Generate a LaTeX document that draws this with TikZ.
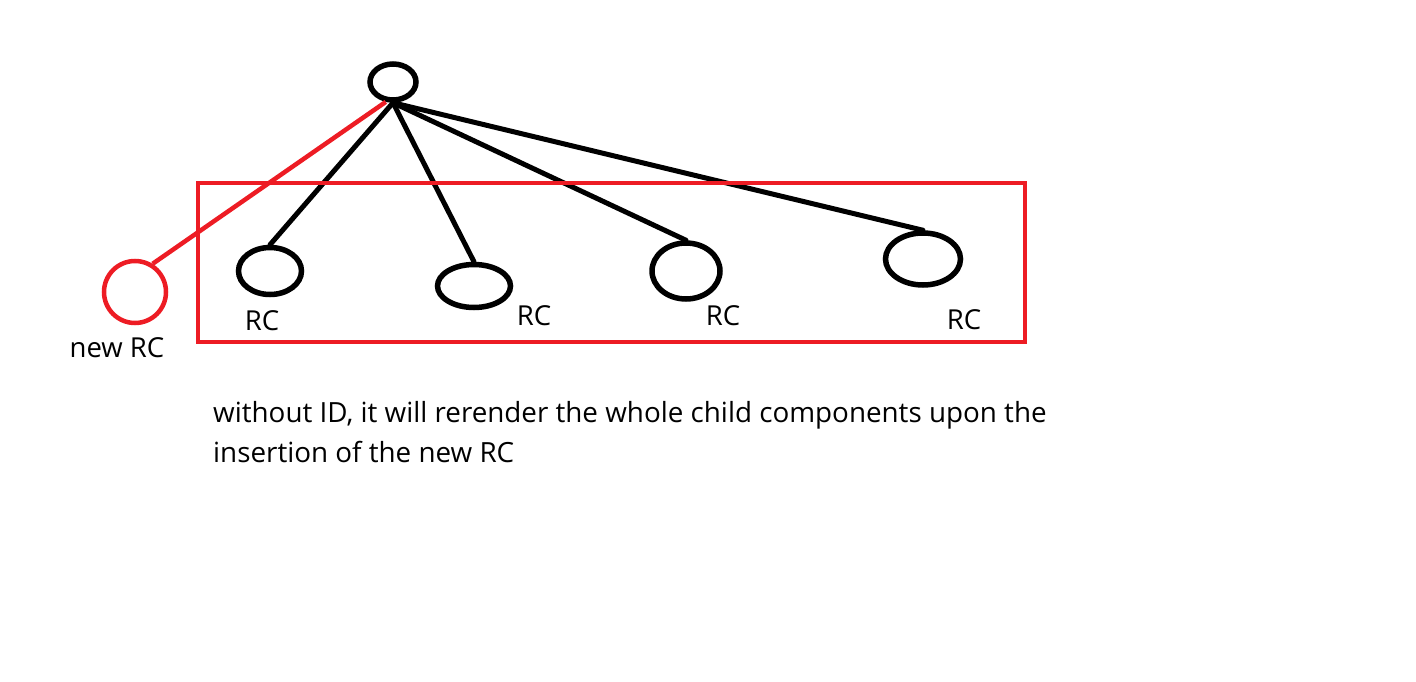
\documentclass[tikz,border=0pt]{standalone}
\usepackage{fontspec}
\setmainfont{Open Sans}
\usetikzlibrary{shapes.geometric, positioning}
\definecolor{paintred}{HTML}{ED1C24}
\tikzset{
    rc/.style = {draw, ellipse, line width=5.5pt, inner sep=0pt},
    new rc/.style = {draw=paintred, circle, line width=4.5pt, inner sep=0pt, minimum size=62pt},
    tree edge/.style = {draw, line width=5pt, line cap=round},
    lbl/.style = {font=\fontsize{27.5}{40}\selectfont, inner sep=0pt},
}
\begin{document}
\begin{tikzpicture}[x=1pt, y=-1pt]
    \useasboundingbox (0,0) rectangle (1416,682);
    \node[rc, minimum width=46pt, minimum height=36pt] (root) at (393, 82) {};
    \node[rc, minimum width=63pt, minimum height=47pt] (rc1) at (270, 271) {};
    \node[rc, minimum width=73pt, minimum height=43pt] (rc2) at (474, 286) {};
    \node[rc, minimum width=68pt, minimum height=56pt] (rc3) at (686, 271) {};
    \node[rc, minimum width=75pt, minimum height=52pt] (rc4) at (923, 259) {};
    \node[new rc] (newrc) at (135, 292) {};

    \node[lbl] (l1) at (262, 321) {RC};
    \node[lbl] (l2) at (534, 316) {RC};
    \node[lbl] (l3) at (723, 316) {RC};
    \node[lbl] (l4) at (964, 320) {RC};
    \node[lbl] (lnew) at (117, 348) {new RC};

    \draw[tree edge] (root.south) -- (rc1.north);
    \draw[tree edge] (root.south) -- (rc2.north);
    \draw[tree edge] (root.south) -- (rc3.north);
    \draw[tree edge] (root.south) -- (rc4.north);
    \draw[line width=4.5pt, paintred] (root.250) -- (newrc.58);

    \draw[line width=4.5pt, paintred] (198, 183) rectangle (1025, 342);

    \node[lbl, font=\fontsize{27.8}{40}\selectfont, anchor=north west, align=left] (note) at (213, 401)
        {without ID, it will rerender the whole child components upon the\\
         insertion of the new RC};
\end{tikzpicture}
\end{document}
